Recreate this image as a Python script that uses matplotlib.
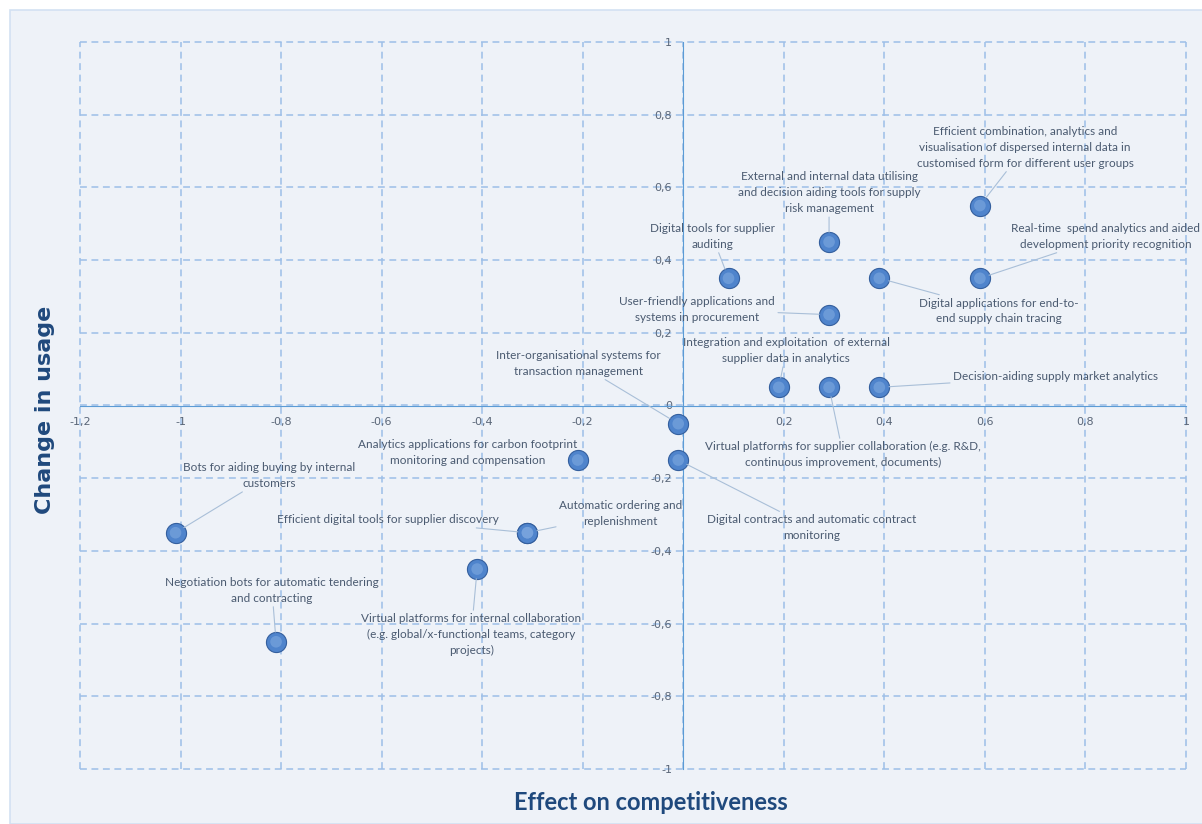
import matplotlib
matplotlib.use("Agg")
import matplotlib.pyplot as plt
from matplotlib.patches import Rectangle
from matplotlib.ticker import FuncFormatter, MultipleLocator

# -------- data --------
labels = [
    "Efficient combination, analytics and\nvisualisation of dispersed internal data in\ncustomised form for different user groups",
    "Real-time  spend analytics and aided\ndevelopment priority recognition",
    "External and internal data utilising\nand decision aiding tools for supply\nrisk management",
    "Digital applications for end-to-\nend supply chain tracing",
    "Digital tools for supplier\nauditing",
    "User-friendly applications and\nsystems in procurement",
    "Integration and exploitation  of external\nsupplier data in analytics",
    "Virtual platforms for supplier collaboration (e.g. R&D,\ncontinuous improvement, documents)",
    "Decision-aiding supply market analytics",
    "Inter-organisational systems for\ntransaction management",
    "Digital contracts and automatic contract\nmonitoring",
    "Analytics applications for carbon footprint\nmonitoring and compensation",
    "Automatic ordering and\nreplenishment",
    "Efficient digital tools for supplier discovery",
    "Bots for aiding buying by internal\ncustomers",
    "Virtual platforms for internal collaboration\n(e.g. global/x-functional teams, category\nprojects)",
    "Negotiation bots for automatic tendering\nand contracting",
]
competitiveness = [0.59, 0.59, 0.29, 0.39, 0.09, 0.29, 0.19, 0.29, 0.39,
                   -0.01, -0.01, -0.21, -0.31, -0.31, -1.01, -0.41, -0.81]
usage = [0.55, 0.35, 0.45, 0.35, 0.35, 0.25, 0.05, 0.05, 0.05,
         -0.05, -0.15, -0.15, -0.35, -0.35, -0.35, -0.45, -0.65]

# label positions (data coords, text centre)
label_x = [0.68, 0.84, 0.29, 0.627, 0.058, 0.028, 0.205, 0.318, 0.74,
           -0.209, 0.255, -0.428, -0.125, -0.587, -0.824, -0.422, -0.818]
label_y = [0.71, 0.465, 0.585, 0.26, 0.465, 0.264, 0.151, -0.135, 0.08,
           0.116, -0.336, -0.129, -0.297, -0.314, -0.193, -0.63, -0.509]
has_leader = [True] * 11 + [False] + [True] * 5

text_col = "#4a5a70"
grid_col = "#9dbfe8"
axis_col = "#5b9bd5"
title_col = "#1f497d"

fig = plt.figure(figsize=(12.02, 8.24), dpi=100)
fig.patch.set_facecolor("white")
fig.patches.append(Rectangle((10 / 1202, 0), 1, 1 - 10 / 824, transform=fig.transFigure,
                             facecolor="#eef2f8", edgecolor="#d3e1f2", lw=1.2, zorder=-10))

ax = fig.add_axes([80 / 1202, 1 - 769 / 824, 1106 / 1202, 727 / 824])
ax.set_facecolor("none")
ax.set_xlim(-1.2, 1)
ax.set_ylim(-1, 1)
ax.xaxis.set_major_locator(MultipleLocator(0.2))
ax.yaxis.set_major_locator(MultipleLocator(0.2))
fmt = FuncFormatter(lambda v, p: ("%g" % round(v, 2)).replace(".", ","))
ax.xaxis.set_major_formatter(fmt)
ax.yaxis.set_major_formatter(fmt)

for s in ["top", "right"]:
    ax.spines[s].set_visible(False)
ax.spines["left"].set_position("zero")
ax.spines["bottom"].set_position("zero")
ax.spines["left"].set_color(axis_col)
ax.spines["bottom"].set_color(axis_col)
ax.tick_params(length=0, labelsize=8, labelcolor="#5a6678", pad=8)
ax.grid(True, ls=(0, (4.5, 3)), color=grid_col, lw=1.1, clip_on=False)
ax.set_axisbelow(True)

ax.scatter(competitiveness, usage, s=210, color="#4f84cc", edgecolor="#345f9e",
           linewidth=0.8, zorder=5)
ax.scatter(competitiveness, usage, s=70, color="#7fa9e0", edgecolor="none",
           alpha=0.6, zorder=6)

for i in range(len(labels)):
    arrow = None
    if has_leader[i]:
        arrow = dict(arrowstyle="-", color="#a9bfd8", lw=0.8, shrinkA=0, shrinkB=7)
    ax.annotate(labels[i], xy=(competitiveness[i], usage[i]),
                xytext=(label_x[i], label_y[i]), ha="center", va="center",
                fontsize=8.5, color=text_col, family=["Lato", "DejaVu Sans"],
                linespacing=1.55, arrowprops=arrow,
                annotation_clip=False, zorder=7)

fig.text(45 / 1202, 1 - 410 / 824, "Change in usage", rotation=90, ha="center",
         va="center", fontsize=16, fontweight="bold", color=title_col,
         family="DejaVu Sans")
fig.text(651 / 1202, 1 - 803 / 824, "Effect on competitiveness", ha="center",
         va="center", fontsize=17, fontweight="bold", color=title_col,
         family=["Lato", "DejaVu Sans"])

fig.savefig("out.png", dpi=100)
